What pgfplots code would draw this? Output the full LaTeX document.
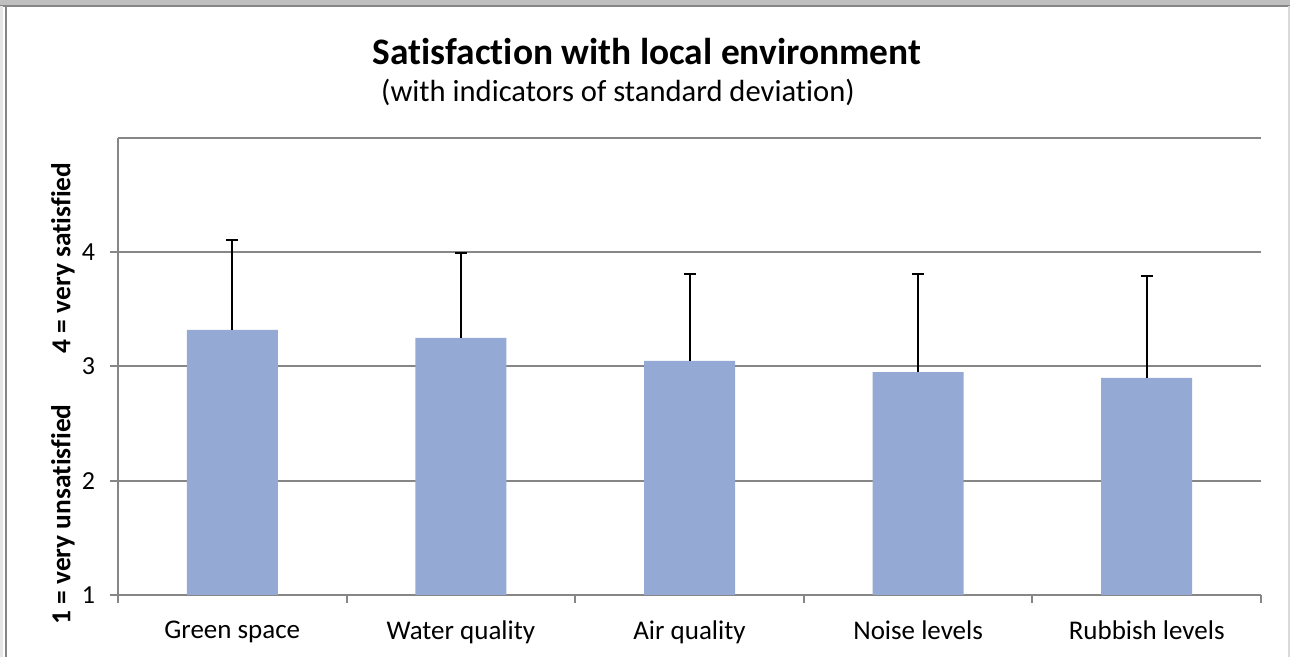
\documentclass[border=0pt]{standalone}
\usepackage{pgfplots}
\pgfplotsset{compat=1.18}
\usepackage{fontspec}
\setmainfont{Carlito}[Ligatures=CommonOff]
\definecolor{barblue}{RGB}{149,169,213}
\definecolor{gridgray}{RGB}{134,134,134}
\begin{document}
\begin{tikzpicture}[x=0.5pt,y=0.5pt]
\path[use as bounding box] (0,0) rectangle (1290,657);
\fill[white] (0,0) rectangle (1290,657);
\fill[black!25] (0,651) rectangle (1290,657);
\draw[gridgray, line width=1pt] (0,650.5) -- (1290,650.5);
\fill[black!10] (0,0) rectangle (3,651);
\draw[gridgray,line width=1pt] (5.5,0) -- (5.5,651);
\draw[black!15, line width=1pt] (1288.5,0)--(1288.5,651);
\node[font=\fontsize{18.7}{22}\selectfont\bfseries] at (647,605) {Satisfaction with local environment};
\node[font=\fontsize{15.3}{18}\selectfont] at (618,565) {(with indicators of standard deviation)};
\node[font=\fontsize{13.7}{16}\selectfont\bfseries, rotate=90] at (63,399) {4 = very satisfied};
\node[font=\fontsize{13.7}{16}\selectfont\bfseries, rotate=90] at (63,142.5) {1 = very unsatisfied};
\begin{axis}[at={(59pt,31pt)}, anchor=south west,
  scale only axis, width=571.5pt, height=228.5pt,
  xmin=-0.5, xmax=4.5, ymin=1, ymax=5,
  axis x line*=bottom, axis y line*=left,
  ybar, bar width=45.5pt,
  ytick={1,2,3,4}, ymajorgrids,
  extra y ticks={5}, extra y tick labels={}, extra y tick style={major tick length=0pt, ymajorgrids},
  grid style={gridgray, line width=1pt},
  axis line style={gridgray, line width=1pt},
  every tick/.style={gridgray, line width=1pt},
  tick align=outside, major tick length=4pt, minor tick length=4pt,
  xtick={0,1,2,3,4},
  xticklabels={Green space, Water quality, Air quality, Noise levels, Rubbish levels},
  major x tick style={draw=none},
  minor xtick={-0.5,0.5,1.5,2.5,3.5,4.5},
  x tick label style={font=\fontsize{13.5}{16}\selectfont, yshift=-5.5pt},
  y tick label style={font=\fontsize{13}{15}\selectfont, xshift=-4pt},
  /pgf/number format/assume math mode=true,
]
\addplot[fill=barblue, draw=none,
  error bars/.cd, y dir=plus, y explicit,
  error bar style={black, line width=1pt},
  error mark options={black, line width=1pt, mark size=3pt, rotate=90}]
  table[x=x, y=y, y error=e] {
x y e
0 3.32 0.79
1 3.25 0.74
2 3.05 0.76
3 2.95 0.86
4 2.90 0.89
};
\end{axis}
\end{tikzpicture}
\end{document}
